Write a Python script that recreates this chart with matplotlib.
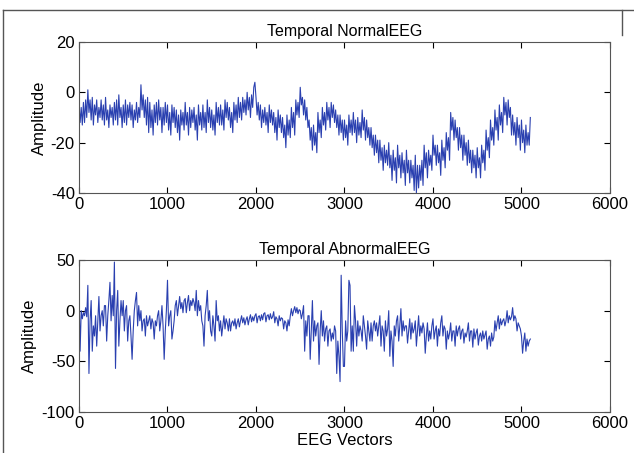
import numpy as np
import matplotlib.pyplot as plt
from matplotlib.lines import Line2D

plt.rcParams['font.family'] = ['Liberation Sans', 'DejaVu Sans']
plt.rcParams['axes.unicode_minus'] = False

# sample step between the read-off values
step = 12.5

normal_eeg = [
    -5, -12, -6, -13, -4, -12, -3, -10,
    1, -8, -3, -11, -2, -13, -5, -9,
    -3, -12, -6, -10, -3, -11, -5, -13,
    -2, -11, -7, -14, -5, -10, -6, -13,
    -4, -11, -3, -13, -1, -10, -6, -14,
    -5, -12, -3, -13, -5, -10, -4, -11,
    -5, -14, -7, -11, -4, -12, -6, -10,
    3, -7, -1, -10, -3, -13, -2, -16,
    -4, -14, -7, -17, -5, -12, -4, -13,
    -3, -11, -6, -16, -6, -13, -4, -12,
    -5, -15, -8, -17, -5, -12, -6, -14,
    -7, -16, -9, -19, -7, -13, -8, -15,
    -4, -13, -8, -17, -6, -14, -7, -12,
    -6, -15, -9, -19, -5, -13, -8, -15,
    -5, -14, -8, -16, -3, -12, -6, -14,
    -7, -15, -9, -17, -4, -12, -6, -13,
    -5, -13, -7, -15, -3, -10, -4, -11,
    -6, -14, -8, -16, -4, -11, -5, -12,
    -2, -10, -4, -11, -2, -8, -3, -9,
    0, -7, -2, -10, -1, -6, 2, 4,
    -2, -9, -4, -11, -5, -14, -7, -12,
    -6, -13, -8, -16, -5, -12, -7, -13,
    -8, -16, -10, -19, -7, -14, -9, -16,
    -10, -18, -13, -22, -9, -17, -11, -18,
    -6, -14, -8, -17, -3, -9, -4, -10,
    2, -5, -2, -9, -3, -11, -6, -14,
    -11, -19, -14, -23, -13, -21, -16, -24,
    -8, -16, -11, -18, -6, -13, -8, -15,
    -4, -11, -6, -14, -4, -10, -5, -12,
    -7, -14, -9, -17, -9, -16, -11, -19,
    -11, -18, -13, -21, -9, -16, -11, -17,
    -8, -16, -11, -20, -10, -17, -12, -18,
    -7, -15, -10, -19, -11, -18, -14, -21,
    -14, -22, -17, -25, -17, -24, -19, -28,
    -19, -27, -22, -31, -21, -28, -23, -29,
    -20, -30, -25, -35, -23, -31, -26, -36,
    -21, -30, -25, -34, -24, -32, -27, -37,
    -23, -32, -27, -36, -27, -34, -29, -39,
    -25, -40, -29, -38, -29, -35, -27, -37,
    -21, -30, -24, -34, -23, -29, -25, -31,
    -17, -25, -21, -29, -21, -28, -24, -33,
    -19, -27, -22, -30, -16, -23, -18, -27,
    -8, -15, -10, -19, -11, -18, -14, -23,
    -14, -22, -17, -27, -17, -25, -20, -29,
    -19, -28, -23, -32, -23, -30, -25, -34,
    -22, -30, -26, -34, -21, -28, -23, -31,
    -15, -23, -18, -26, -11, -19, -14, -21,
    -7, -15, -10, -19, -5, -13, -8, -16,
    -2, -9, -4, -13, -3, -10, -6, -17,
    -9, -17, -12, -21, -10, -18, -13, -23,
    -11, -20, -15, -24, -13, -21, -16, -21,
    -10,
]

abnormal_eeg = [
    22, -40, 0, -8, -2, -5, 3, -6,
    25, -62, -10, 10, -40, -15, -25, -5,
    -35, -10, 14, -20, -5, 0, -15, 5,
    5, -30, -5, 10, 28, -10, 15, -5,
    48, -57, 0, 20, -35, -10, 10, -5,
    10, -20, 0, 5, -30, -10, -5, -25,
    -48, -20, 0, 10, 18, -15, 5, -10,
    0, -20, -10, -8, -25, -5, -15, -10,
    -5, -18, -8, -12, -28, -10, -15, -5,
    0, -20, -10, 5, -15, -48, -20, 0,
    30, -15, -5, 0, -28, -20, -10, 5,
    10, -5, 5, 14, 2, 8, -2, 10,
    12, -2, 8, 15, 0, 10, 5, 12,
    8, 0, 20, -5, 10, 0, 5, -10,
    -15, -35, -5, 5, 20, -10, 0, -20,
    -25, -5, -15, -30, 10, -10, -5, -20,
    -10, -25, -15, -5, -18, -8, -12, -20,
    -8, -20, -12, -10, -15, -8, -18, -12,
    -8, -16, -10, -5, -12, -7, -14, -9,
    -6, -14, -8, -4, -11, -6, -10, -5,
    -3, -12, -6, -5, -10, -4, -9, -3,
    -2, -11, -5, -4, -9, -3, -8, -6,
    -1, -12, -6, -8, -15, -5, -10, -7,
    -8, -18, -10, -12, -20, -9, -15, -5,
    2, -5, 0, 4, -2, 3, -3, 1,
    0, -8, -3, 5, -40, -10, -25, -5,
    -5, -48, -20, 10, -30, -10, -25, -15,
    -12, -53, -20, 0, -25, -10, -30, -18,
    -15, -35, -20, -18, -30, -22, -28, -15,
    -20, -62, -30, -45, -70, 35, -20, -55,
    -55, -10, -30, -20, 30, 25, -40, -15,
    -40, 5, -10, -35, -10, -25, -15, -20,
    -30, -5, -15, -25, -38, -10, -20, -30,
    -12, -30, -15, -10, -20, -12, -25, -15,
    -5, -35, -15, -20, -40, -10, -25, -18,
    0, -45, -20, -30, -55, -15, -25, -10,
    -5, -30, -15, 2, -25, -10, -20, -15,
    -15, -32, -20, -8, -28, -12, -22, -18,
    -10, -35, -20, -5, -25, -15, -22, -12,
    -18, -42, -25, -12, -30, -20, -28, -15,
    -8, -28, -20, -15, -35, -18, -25, -12,
    -5, -25, -15, -18, -38, -20, -28, -22,
    -12, -30, -20, -20, -35, -15, -25, -18,
    -15, -28, -20, -18, -32, -22, -26, -20,
    -12, -30, -20, -20, -36, -18, -28, -22,
    -18, -34, -25, -22, -30, -20, -28, -24,
    -20, -38, -28, -25, -35, -22, -30, -26,
    -10, -20, -12, -5, -18, -8, -14, -10,
    -8, -15, -10, 0, -12, -5, -9, -6,
    3, -10, -5, -8, -20, -12, -15, -18,
    -25, -42, -30, -22, -40, -28, -35, -30,
    -28,
]

titles = ['Temporal NormalEEG', 'Temporal AbnormalEEG']
ylims = [(-40, 20), (-100, 50)]
yticks = [[-40, -20, 0, 20], [-100, -50, 0, 50]]
xticks = [0, 1000, 2000, 3000, 4000, 5000, 6000]

fig = plt.figure(figsize=(6.34, 4.53), dpi=100)
ax1 = fig.add_axes([0.1246, 0.574, 0.8375, 0.3333])
ax2 = fig.add_axes([0.1246, 0.0905, 0.8375, 0.3355])

for ax, data, t, yl, yt in zip([ax1, ax2], [normal_eeg, abnormal_eeg], titles, ylims, yticks):
    x = np.arange(len(data)) * step
    ax.plot(x, data, color='#2a40b0', lw=0.8)
    ax.set_xlim(0, 6000)
    ax.set_ylim(*yl)
    ax.set_xticks(xticks)
    ax.set_yticks(yt)
    ax.set_title(t, fontsize=11.5, pad=4)
    ax.set_ylabel('Amplitude', fontsize=12, labelpad=3)
    ax.tick_params(direction='in', top=True, right=True, labelsize=12, length=4, width=0.8, pad=3)
    for s in ax.spines.values():
        s.set_color('#555555')
        s.set_linewidth(0.8)

ax2.set_xlabel('EEG Vectors', fontsize=12, labelpad=1)

# frame around the figure
fig.add_artist(Line2D([3/634, 3/634], [0, 1 - 10/453], color='#555555', lw=1))
fig.add_artist(Line2D([3/634, 1], [1 - 10/453, 1 - 10/453], color='#555555', lw=1))
fig.add_artist(Line2D([622/634, 622/634], [1 - 35/453, 1 - 10/453], color='#555555', lw=1))

fig.savefig('out.png', dpi=100)
